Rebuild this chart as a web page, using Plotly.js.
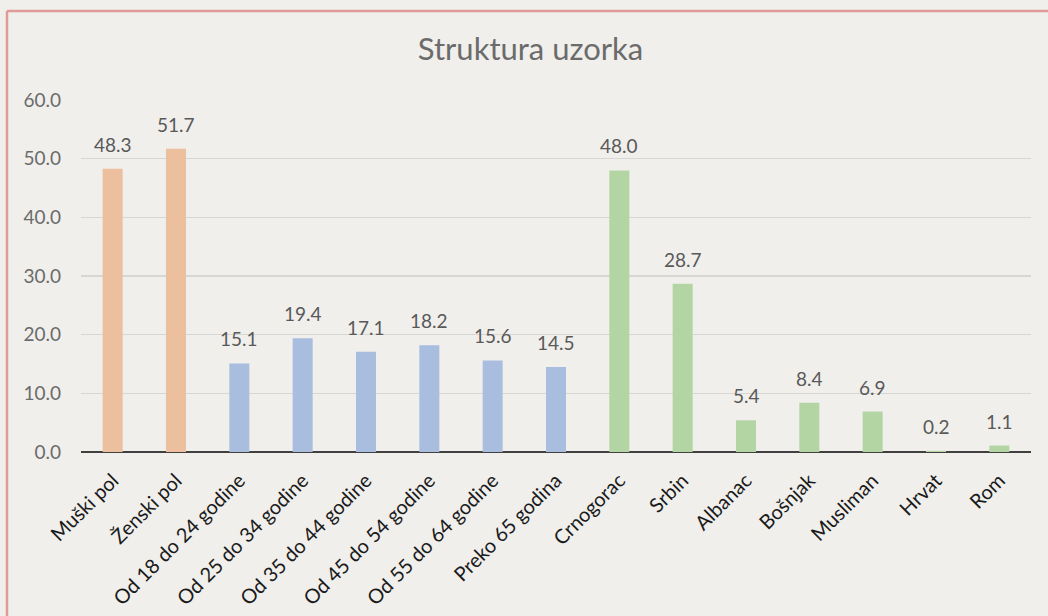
<!DOCTYPE html>
<html>
<head>
<meta charset="utf-8">
<script src="https://cdn.plot.ly/plotly-3.0.1.min.js"></script>
<style>
  html, body { margin: 0; padding: 0; background: #f0efec; }
  #chart { width: 1048px; height: 616px; }
</style>
</head>
<body>
<div id="chart"></div>
<script>
// Data
const genderCats = ["Muški pol", "Ženski pol"];
const genderVals = [48.3, 51.7];
const ageCats = ["Od 18 do 24 godine", "Od 25 do 34 godine", "Od 35 do 44 godine", "Od 45 do 54 godine", "Od 55 do 64 godine", "Preko 65 godina"];
const ageVals = [15.1, 19.4, 17.1, 18.2, 15.6, 14.5];
const ethnicCats = ["Crnogorac", "Srbin", "Albanac", "Bošnjak", "Musliman", "Hrvat", "Rom"];
const ethnicVals = [48.0, 28.7, 5.4, 8.4, 6.9, 0.2, 1.1];
const yTicks = [0, 10, 20, 30, 40, 50, 60];
const chartTitle = "Struktura uzorka";

const FONT = "Lato, 'Open Sans', sans-serif";

function barTrace(cats, vals, color) {
  return {
    type: "bar",
    x: cats,
    y: vals,
    marker: { color: color, line: { width: 0 } },
    hoverinfo: "x+y",
    showlegend: false
  };
}

const traces = [
  barTrace(genderCats, genderVals, "#ecbf9e"),
  barTrace(ageCats, ageVals, "#a9bedf"),
  barTrace(ethnicCats, ethnicVals, "#b3d5a3")
];

const annotations = [];
[[genderCats, genderVals], [ageCats, ageVals], [ethnicCats, ethnicVals]].forEach(([c, v]) => {
  c.forEach((cat, i) => {
    annotations.push({
      x: cat, y: v[i], xref: "x", yref: "y",
      text: v[i].toFixed(1),
      showarrow: false,
      yanchor: "bottom",
      yshift: 11,
      font: { family: FONT, size: 19, color: "#595959" }
    });
  });
});

const borderColor = "#e09a98";
const shapes = [
  { type: "line", xref: "paper", yref: "paper", x0: (7 - 81) / 950, x1: 1.1, y0: (452 - 11) / 352, y1: (452 - 11) / 352, line: { color: borderColor, width: 2.5 } },
  { type: "line", xref: "paper", yref: "paper", x0: (7 - 81) / 950, x1: (7 - 81) / 950, y0: (452 - 11) / 352, y1: -0.6, line: { color: borderColor, width: 2.5 } }
];

const layout = {
  width: 1048,
  height: 616,
  margin: { l: 81, r: 17, t: 100, b: 164 },
  paper_bgcolor: "#f0efec",
  plot_bgcolor: "rgba(0,0,0,0)",
  barmode: "overlay",
  bargap: 0.684,
  title: {
    text: chartTitle,
    font: { family: FONT, size: 31, color: "#6b6b6b" },
    x: (530.5 - 81) / 950, xref: "paper", xanchor: "center",
    y: 1 - 49 / 616, yref: "container", yanchor: "middle"
  },
  xaxis: {
    type: "category",
    tickangle: -45,
    tickfont: { family: FONT, size: 20, color: "#1a1a1a" },
    showgrid: false,
    showline: false,
    ticks: "",
    ticklabelstandoff: 12,
    fixedrange: true
  },
  yaxis: {
    range: [0, 60],
    tickvals: yTicks,
    ticktext: yTicks.map(t => t.toFixed(1)),
    tickfont: { family: FONT, size: 19, color: "#6b6b6b" },
    showgrid: true,
    gridcolor: "#d6d6d4",
    gridwidth: 1.3,
    zeroline: true,
    zerolinecolor: "#404040",
    zerolinewidth: 1.5,
    showline: false,
    ticks: "",
    ticklabelstandoff: 19,
    fixedrange: true
  },
  annotations: annotations,
  shapes: shapes,
  font: { family: FONT }
};

Plotly.newPlot("chart", traces, layout, { displayModeBar: false, staticPlot: true });
</script>
</body>
</html>
